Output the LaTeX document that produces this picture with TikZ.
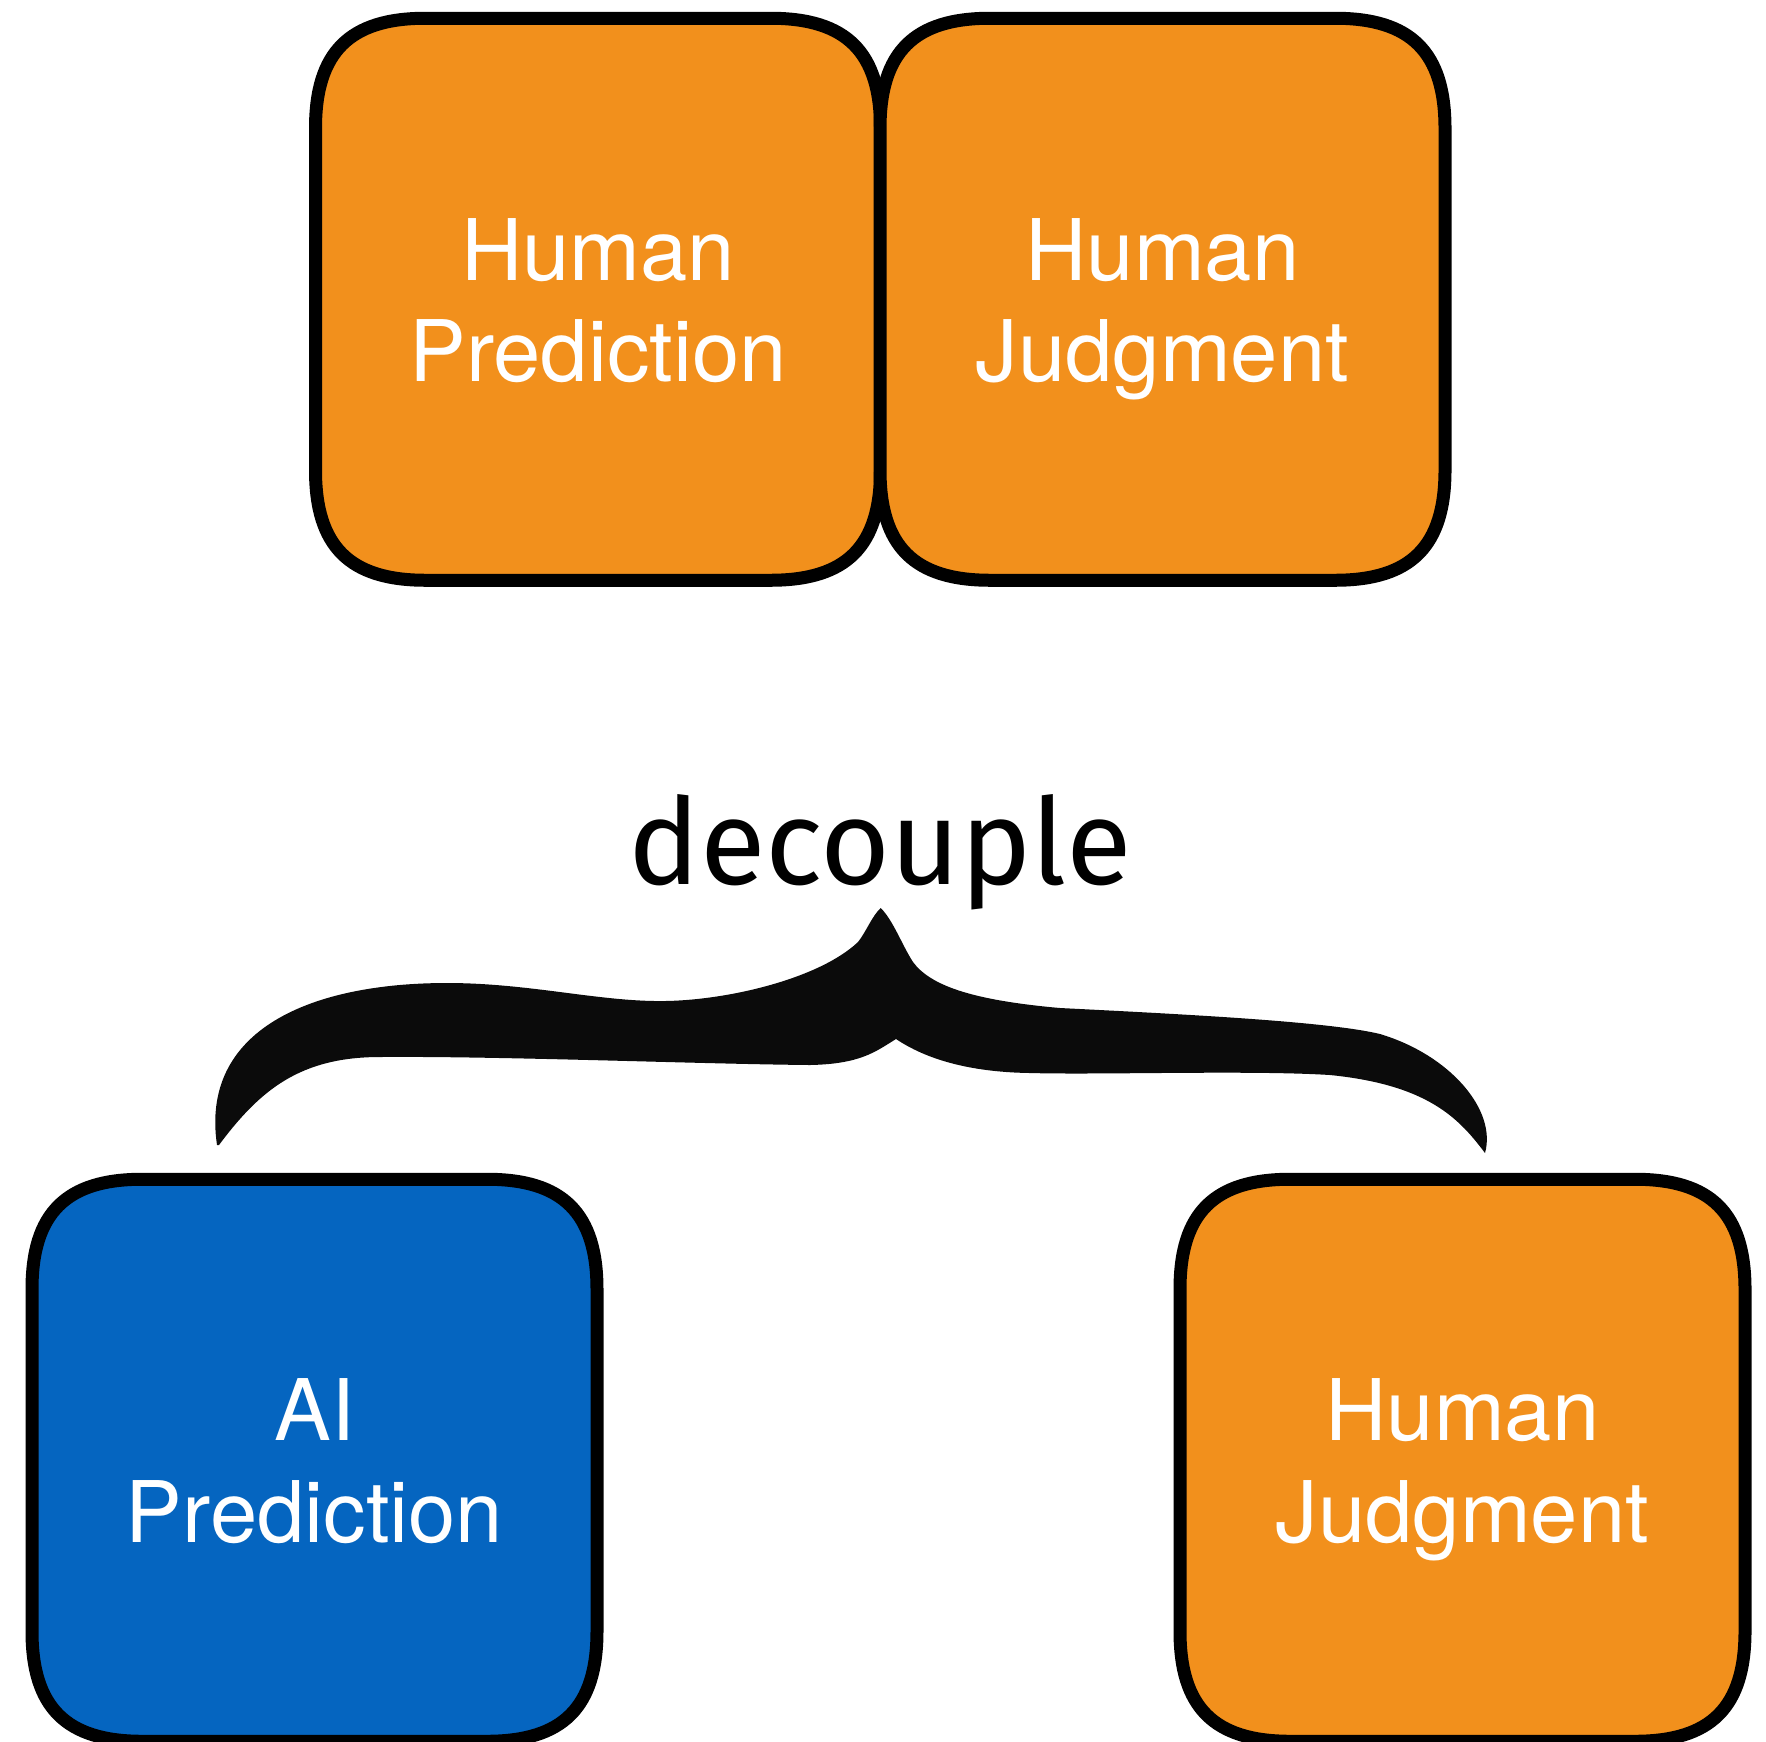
\documentclass[tikz,border=0pt]{standalone}
\usepackage{fontspec}
\setmainfont{TeX Gyre Heros}
\newfontfamily\decfont{Fira Sans}
\definecolor{boxorange}{RGB}{242,144,28}
\definecolor{boxblue}{RGB}{5,101,192}
\definecolor{bracefill}{RGB}{11,11,11}
% squircle-like outline drawn round a named (invisible) node
\newcommand\sqbox[2]{%
  \draw[boxline, fill=#2]
    ([yshift=-110pt]#1.north west) .. controls ([yshift=-34pt]#1.north west) and ([xshift=34pt]#1.north west) .. ([xshift=110pt]#1.north west)
    -- ([xshift=-110pt]#1.north east) .. controls ([xshift=-34pt]#1.north east) and ([yshift=-34pt]#1.north east) .. ([yshift=-110pt]#1.north east)
    -- ([yshift=110pt]#1.south east) .. controls ([yshift=34pt]#1.south east) and ([xshift=-34pt]#1.south east) .. ([xshift=-110pt]#1.south east)
    -- ([xshift=110pt]#1.south west) .. controls ([xshift=34pt]#1.south west) and ([yshift=34pt]#1.south west) .. ([yshift=110pt]#1.south west)
    -- cycle;}
\begin{document}
\begin{tikzpicture}[x=1pt,y=-1pt,
  card/.style={inner sep=0pt, outer sep=0pt, minimum width=565pt, minimum height=562pt},
  boxline/.style={draw=black, line width=13pt, line join=round},
  lbl/.style={text=white, inner sep=0pt, anchor=base, font=\fontsize{85}{100}\selectfont},
  declbl/.style={text=black, inner sep=0pt, anchor=base, font=\decfont\fontsize{120}{140}\selectfont}]
\useasboundingbox (0,0) rectangle (1766,1741);
% boxes
\node[card] (hp) at (598,299.25) {};
\node[card] (hj) at (1162.5,299.25) {};
\node[card] (ap) at (314.5,1460.25) {};
\node[card] (hj2) at (1462.5,1460.25) {};
\sqbox{hp}{boxorange}
\sqbox{hj}{boxorange}
\sqbox{ap}{boxblue}
\sqbox{hj2}{boxorange}
% labels
\node[lbl] (hp1) at (598,280.5) {Human};
\node[lbl] (hp2) at (598,381.8) {Prediction};
\node[lbl] (hj1) at (1162.5,280.5) {Human};
\node[lbl] (hj2a) at (1162.5,381.8) {Judgment};
\node[lbl] (ap1) at (314.5,1440.5) {AI};
\node[lbl] (ap2) at (314.5,1542) {Prediction};
\node[lbl] (hj21) at (1462.5,1440.5) {Human};
\node[lbl] (hj22) at (1462.5,1542) {Judgment};
% decouple
\node[declbl] (dec) at (880,884) {decouple};
% brace
\coordinate (tip) at (880.7,908);
\coordinate (notch) at (896,1039);
\coordinate (ltip) at (217,1145);
\coordinate (rtip) at (1485,1153);
\fill[bracefill]
  (tip) .. controls (893,920) and (902,945) .. (913,962)
  .. controls (930,985) and (970,1000) .. (1060,1008)
  .. controls (1200,1015) and (1330,1022) .. (1380,1034)
  .. controls (1450,1055) and (1497,1110) .. (rtip)
  .. controls (1460,1120) and (1430,1085) .. (1330,1075)
  .. controls (1250,1070) and (1100,1075) .. (1030,1073)
  .. controls (960,1072) and (920,1055) .. (notch)
  .. controls (875,1052) and (860,1064) .. (810,1065)
  .. controls (700,1064) and (500,1056) .. (380,1057)
  .. controls (300,1057) and (260,1090) .. (219,1145)
  -- (ltip)
  .. controls (200,1030) and (310,983) .. (447,983)
  .. controls (530,983) and (600,1002) .. (665,1001)
  .. controls (730,1000) and (820,978) .. (858,942)
  .. controls (866,932) and (872,916) .. (tip)
  -- cycle;
\end{tikzpicture}
\end{document}
